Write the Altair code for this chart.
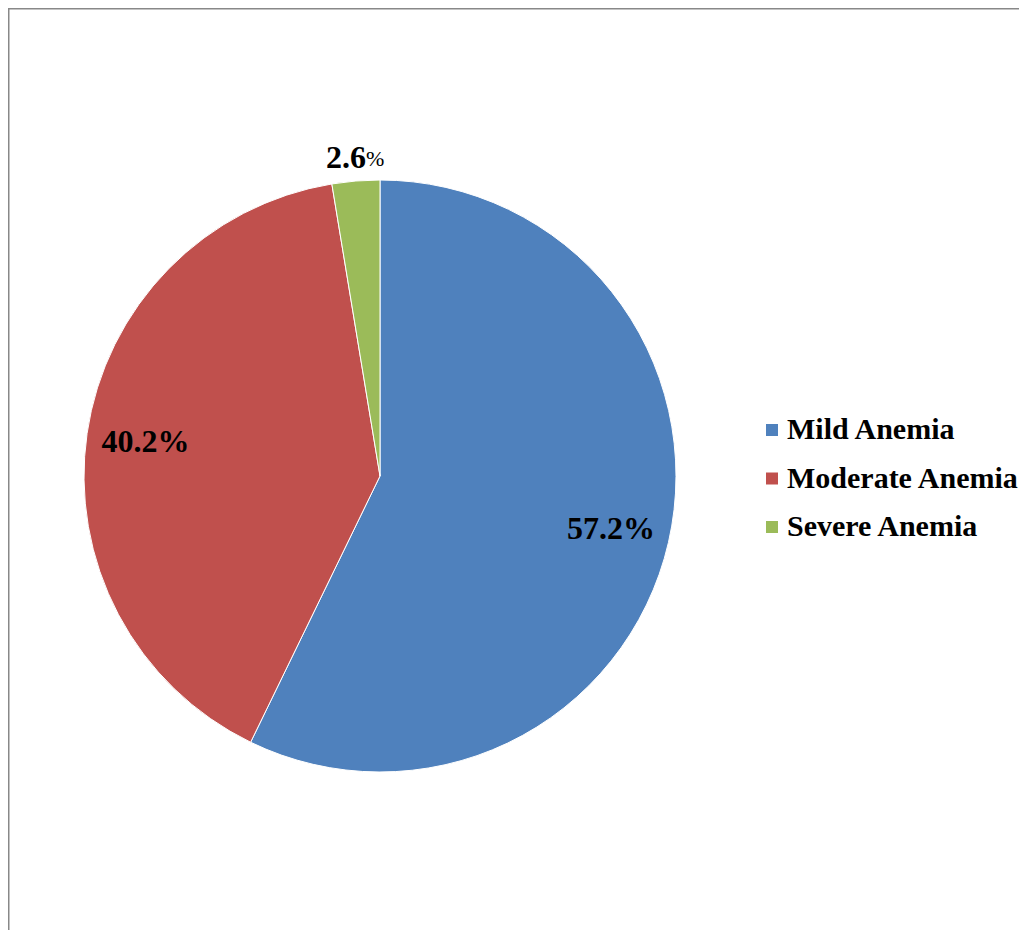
import altair as alt
import pandas as pd

categories = ["Mild Anemia", "Moderate Anemia", "Severe Anemia"]
values = [57.2, 40.2, 2.6]
labels = ["57.2%", "40.2%", "2.6%"]
colors = ["#4F81BD", "#C0504D", "#9BBB59"]
order = [1, 2, 3]
outside = [False, False, True]

df = pd.DataFrame({"category": categories, "value": values, "label": labels,
                   "ord": order, "outside": outside})

FONT = "Liberation Serif"
CX, CY, R = 372, 468, 296

color = alt.Color("category:N",
                  scale=alt.Scale(domain=categories, range=colors),
                  legend=alt.Legend(orient="none", legendX=749, legendY=407,
                                    symbolType="square", symbolSize=144,
                                    symbolStrokeWidth=0, symbolOpacity=1,
                                    labelFont=FONT, labelFontSize=30,
                                    labelFontWeight="bold", labelColor="black",
                                    rowPadding=18.5, labelOffset=0, title=None,
                                    padding=0, labelLimit=500))

base = alt.Chart(df)

pie = base.mark_arc(outerRadius=R, stroke="white", strokeWidth=1).encode(
    theta=alt.Theta("value:Q", stack=True),
    order=alt.Order("ord:Q"),
    color=color,
    x=alt.value(CX), y=alt.value(CY),
)

lab_base = base.transform_window(
    cum="sum(value)", sort=[alt.SortField("ord")]
).transform_calculate(mid="datum.cum - datum.value / 2",
                      num="replace(datum.label, '%', '')")

theta_mid = alt.Theta("mid:Q", stack=False,
                      scale=alt.Scale(domain=[0, 100], range=[0, 6.283185307]))

inside_lab = lab_base.transform_filter("!datum.outside").mark_text(
    font=FONT, fontSize=32, fontWeight="bold", color="black"
).encode(theta=theta_mid, radius=alt.value(237), text="label:N",
         x=alt.value(CX), y=alt.value(CY))

outside_num = lab_base.transform_filter("datum.outside").mark_text(
    font=FONT, fontSize=32, fontWeight="bold", color="black", align="right", dx=12
).encode(theta=theta_mid, radius=alt.value(319), text="num:N",
         x=alt.value(CX), y=alt.value(CY))

outside_pct = lab_base.transform_filter("datum.outside").mark_text(
    text="%", font=FONT, fontSize=22, color="black", align="left", dx=12, dy=1
).encode(theta=theta_mid, radius=alt.value(319),
         x=alt.value(CX), y=alt.value(CY))

border = alt.Chart(pd.DataFrame({"a": [0]})).mark_rect(
    fill="white", fillOpacity=0, stroke="#888888", strokeWidth=2
).encode(x=alt.value(0.5), x2=alt.value(1100), y=alt.value(0.5), y2=alt.value(1100))

chart = alt.layer(border, pie, inside_lab, outside_num, outside_pct).resolve_scale(
    theta="independent"
).properties(
    width=1011, height=922, autosize=alt.AutoSizeParams(type="none"), padding=0,
    background="white"
).configure_view(stroke=None)

chart.save("out.html", embed_options={"renderer": "svg", "actions": False})
